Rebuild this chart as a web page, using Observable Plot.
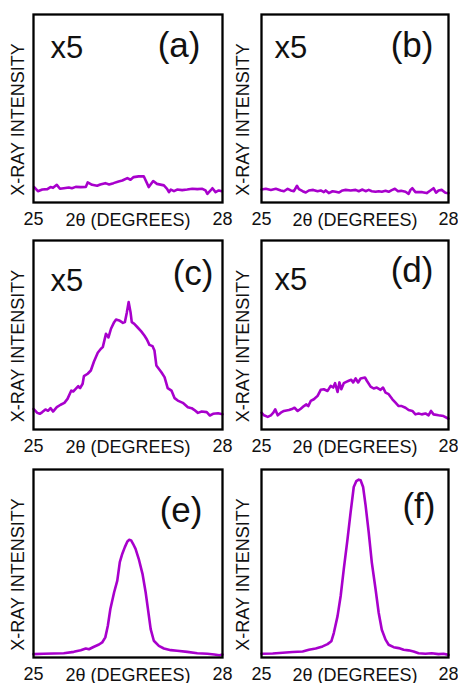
<!DOCTYPE html>
<html>
<head>
<meta charset="utf-8">
<script src="https://cdn.jsdelivr.net/npm/d3@7"></script>
<script src="https://cdn.jsdelivr.net/npm/@observablehq/plot@0.6"></script>
<style>
  html, body { margin: 0; padding: 0; background: #fff; }
  #chart { position: relative; width: 458px; height: 683px; overflow: hidden; }
  .cell { position: absolute; }
</style>
</head>
<body>
<div id="chart"></div>
<script>
// ---- data (2θ in degrees, intensity in arbitrary units, 0–100 = box height) ----
const xTicks = [25, 28];
const xLabel = "2θ (DEGREES)";
const yLabel = "X-RAY INTENSITY";
const panelNames = ["(a)", "(b)", "(c)", "(d)", "(e)", "(f)"];
const scaleNote = "x5";

const thetaA = [25.01,25.07,25.14,25.22,25.27,25.31,25.37,25.42,25.48,25.56,25.61,25.67,25.75,25.83,25.86,25.93,26.01,26.06,26.14,26.20,26.27,26.35,26.41,26.49,26.54,26.59,26.67,26.75,26.83,26.90,26.96,27.07,27.12,27.15,27.18,27.23,27.28,27.36,27.44,27.52,27.60,27.68,27.73,27.76,27.81,27.84,27.89,27.94,27.99];
const intenA = [8.2,6.0,6.9,7.1,8.2,7.8,9.4,7.3,7.6,8.0,7.6,8.3,8.2,8.3,10.7,9.4,8.9,9.6,10.3,9.6,10.3,11.2,11.7,13.0,12.1,13.5,13.9,14.0,8.2,11.4,9.9,9.1,7.3,5.5,6.9,6.0,6.9,6.6,6.9,7.3,7.1,7.3,6.4,4.6,6.4,7.6,5.5,6.4,6.0];

const thetaB = [25.00,25.07,25.15,25.23,25.31,25.36,25.42,25.47,25.52,25.57,25.60,25.66,25.71,25.76,25.83,25.90,25.95,26.00,26.03,26.08,26.14,26.19,26.24,26.30,26.35,26.43,26.51,26.56,26.62,26.67,26.72,26.77,26.83,26.88,26.93,26.99,27.04,27.09,27.14,27.19,27.24,27.31,27.36,27.39,27.42,27.47,27.52,27.58,27.65,27.71,27.76,27.80,27.84,27.89,27.95,28.00];
const intenB = [6.9,7.3,6.7,7.3,6.4,6.0,7.3,6.4,6.0,8.9,7.1,6.0,5.3,6.4,6.7,6.0,6.4,5.5,6.4,5.0,6.0,5.7,5.3,6.4,6.7,6.4,6.7,6.0,6.9,6.0,6.7,6.0,5.7,6.0,5.7,6.2,5.7,6.6,7.3,6.0,6.2,5.7,4.6,6.7,7.6,5.5,5.5,5.5,5.0,6.4,7.6,5.2,6.4,6.7,5.2,5.0];

const thetaC = [25.00,25.06,25.10,25.14,25.19,25.23,25.27,25.31,25.37,25.43,25.49,25.54,25.60,25.63,25.67,25.71,25.74,25.78,25.80,25.86,25.91,25.96,26.02,26.07,26.10,26.15,26.19,26.23,26.28,26.31,26.36,26.42,26.45,26.48,26.51,26.54,26.56,26.60,26.65,26.71,26.76,26.80,26.84,26.89,26.92,26.95,27.03,27.08,27.13,27.19,27.24,27.29,27.37,27.45,27.51,27.55,27.61,27.67,27.75,27.80,27.85,27.93,28.00];
const intenC = [10.9,8.8,8.3,9.2,10.6,9.9,11.3,9.5,11.8,13.1,14.1,16.2,20.6,20.1,21.5,22.9,21.9,24.2,28.2,29.5,31.2,36.0,40.6,42.7,43.6,50.6,48.7,53.3,56.8,58.2,57.7,56.4,56.8,61.7,67.4,62.1,56.8,55.9,54.1,51.9,49.7,47.6,44.8,44.1,41.8,33.9,30.3,27.7,21.9,20.6,16.6,15.3,14.1,11.8,11.3,10.4,8.8,9.5,9.2,7.4,8.3,8.6,8.1];

const thetaD = [25.00,25.04,25.10,25.15,25.19,25.22,25.26,25.31,25.36,25.44,25.50,25.53,25.58,25.63,25.68,25.72,25.75,25.79,25.84,25.90,25.95,26.00,26.06,26.11,26.15,26.18,26.22,26.25,26.28,26.32,26.36,26.40,26.44,26.47,26.51,26.55,26.59,26.66,26.69,26.75,26.80,26.85,26.91,26.95,26.99,27.04,27.10,27.15,27.20,27.25,27.31,27.36,27.42,27.47,27.52,27.57,27.63,27.68,27.72,27.76,27.84,27.92,28.00];
const intenD = [8.9,7.5,6.7,7.5,8.9,10.7,7.5,8.9,9.8,10.3,11.0,11.5,9.8,11.0,12.4,13.3,12.4,15.1,16.0,17.8,21.0,21.3,20.4,23.1,22.2,24.5,19.9,24.9,21.3,24.5,25.2,25.8,26.3,24.9,27.0,24.9,27.0,27.5,25.8,22.7,21.7,22.2,21.0,22.2,19.5,18.7,16.0,14.2,12.4,12.4,11.5,10.3,9.8,8.0,8.5,8.0,8.5,7.5,9.8,8.0,7.5,7.1,5.7];

const thetaE = [25.00,25.16,25.32,25.48,25.64,25.75,25.83,25.88,25.96,26.04,26.09,26.14,26.18,26.22,26.28,26.33,26.37,26.41,26.45,26.49,26.52,26.55,26.58,26.62,26.67,26.73,26.78,26.82,26.86,26.91,26.99,27.07,27.18,27.28,27.44,27.60,27.76,27.87,27.95,28.00];
const intenE = [1.8,2.0,2.1,2.3,3.0,3.9,4.8,4.4,5.7,6.9,8.0,10.7,16.9,25.8,34.7,40.9,50.7,55.2,58.7,61.7,62.6,62.3,60.5,57.8,52.5,44.5,34.7,24.9,15.1,8.9,6.2,4.8,3.9,3.6,3.0,2.3,2.0,1.6,1.2,1.6];

const thetaF = [25.00,25.18,25.34,25.50,25.66,25.76,25.87,25.98,26.06,26.12,26.16,26.22,26.27,26.32,26.38,26.43,26.48,26.52,26.56,26.59,26.63,26.67,26.72,26.77,26.83,26.88,26.93,26.99,27.04,27.12,27.20,27.28,27.36,27.44,27.52,27.63,27.73,27.84,27.92,28.00];
const intenF = [2.0,2.1,2.5,2.9,3.2,4.1,4.8,5.9,7.1,8.6,13.0,22.0,32.7,47.0,63.0,77.3,90.7,93.8,94.6,94.3,90.7,80.9,66.6,50.5,36.3,23.8,14.8,9.5,6.8,5.5,5.0,4.1,3.8,3.2,2.3,2.0,2.3,1.8,2.0,1.4];

const series = [
  {theta: thetaA, inten: intenA, scaled: true},
  {theta: thetaB, inten: intenB, scaled: true},
  {theta: thetaC, inten: intenC, scaled: true},
  {theta: thetaD, inten: intenD, scaled: true},
  {theta: thetaE, inten: intenE, scaled: false},
  {theta: thetaF, inten: intenF, scaled: false}
];

// ---- layout (page placement and label offsets) ----
const cellLeft = [0, 229];
const cellTop = [0, 227, 455];
const cellH = [227, 228, 228];
const cellW = 229;
const marginsCol = [{l: 33, r: 7}, {l: 32, r: 10}];
const marginsRow = [{t: 14, b: 25}, {t: 13, b: 26}, {t: 14, b: 26}];
// name label offsets from top-right corner; x5 offsets from top-left
const nameOff = [[22, 18], [15, 18], [9, 20], [15, 17], [20, 28], [13, 24]];
const noteOff = [[17, 21], [13, 21], [17, 28], [13, 27]];

const FONT = "'Liberation Sans', Arial, Helvetica, sans-serif";
const LINE = "#a800cc";

const chart = document.getElementById("chart");
series.forEach((s, i) => {
  const col = i % 2, row = Math.floor(i / 2);
  const data = s.theta.map((t, k) => ({theta: t, intensity: s.inten[k]}));
  const marks = [
    Plot.line(data, {x: "theta", y: "intensity", stroke: LINE, strokeWidth: 2.6, strokeLinejoin: "round", strokeLinecap: "round"}),
    Plot.frame({stroke: "#000", strokeWidth: 2.3}),
    Plot.text(xTicks, {x: d => d, text: d => String(d), frameAnchor: "bottom", textAnchor: "middle", lineAnchor: "top", dx: 0, dy: 10, fontSize: 18, fill: "#111"}),
    Plot.text([xLabel], {text: d => d, frameAnchor: "bottom", textAnchor: "middle", lineAnchor: "top", dy: 11, fontSize: 18, fill: "#111"}),
    Plot.text([yLabel], {text: d => d, frameAnchor: "left", textAnchor: "middle", lineAnchor: "middle", rotate: -90, dx: col === 0 ? -15 : -18, dy: 11, fontSize: 18, fill: "#111"}),
    Plot.text([panelNames[i]], {text: d => d, frameAnchor: "top-right", textAnchor: "end", lineAnchor: "top", dx: -nameOff[i][0], dy: nameOff[i][1], fontSize: 35, fill: "#111"})
  ];
  if (s.scaled) {
    marks.push(Plot.text([scaleNote], {text: d => d, frameAnchor: "top-left", textAnchor: "start", lineAnchor: "top", dx: noteOff[i][0], dy: noteOff[i][1], fontSize: 31, fill: "#111"}));
  }
  const svg = Plot.plot({
    width: cellW,
    height: cellH[row],
    marginLeft: marginsCol[col].l,
    marginRight: marginsCol[col].r,
    marginTop: marginsRow[row].t,
    marginBottom: marginsRow[row].b,
    x: {domain: [25, 28], axis: null},
    y: {domain: [0, 100], axis: null},
    style: {fontFamily: FONT, background: "none", overflow: "visible"},
    marks
  });
  const div = document.createElement("div");
  div.className = "cell";
  div.style.left = cellLeft[col] + "px";
  div.style.top = cellTop[row] + "px";
  div.appendChild(svg);
  chart.appendChild(div);
});
</script>
</body>
</html>
